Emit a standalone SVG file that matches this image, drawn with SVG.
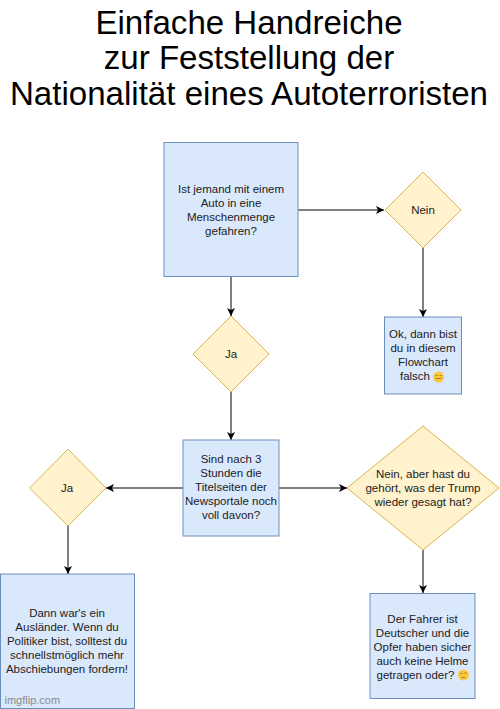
<svg xmlns="http://www.w3.org/2000/svg" width="500" height="709" viewBox="0 0 500 709">
<style>
.box{fill:#dae8fc;stroke:#6c8ebf;stroke-width:1}
.dia{fill:#fff2cc;stroke:#d6b656;stroke-width:1}
.t{font-family:"Liberation Sans",Arial,sans-serif;font-size:11.5px;fill:#222;text-anchor:middle}
.title{font-family:"Liberation Sans",Arial,sans-serif;font-size:33.1px;fill:#000;text-anchor:middle}
.c{stroke:#000;stroke-width:1;fill:none;marker-end:url(#a)}
.em{fill:#fcc63f}
.f{stroke:#8a6a20;stroke-width:.8;fill:none}
</style>
<defs><marker id="a" markerUnits="userSpaceOnUse" markerWidth="9" markerHeight="9" refX="8" refY="4.5" orient="auto"><path d="M0 0.5L8 4.5L0 8.5L2 4.5Z" fill="#000"/></marker></defs>
<rect width="500" height="709" fill="#fff"/>
<g id="title">
<text class="title" x="249" y="34">Einfache Handreiche</text>
<text class="title" x="249" y="69">zur Feststellung der</text>
<text class="title" x="249" y="105">Nationalität eines Autoterroristen</text>
</g>
<g id="connectors">
<path class="c" d="M298 210H384"/>
<path class="c" d="M231 277V316"/>
<path class="c" d="M423 248V317"/>
<path class="c" d="M231 392V440"/>
<path class="c" d="M183 488H106"/>
<path class="c" d="M279 488H347"/>
<path class="c" d="M68 526V574"/>
<path class="c" d="M423 550V593"/>
</g>
<g id="n1"><rect class="box" x="164" y="142.500" width="134" height="134"/>
<text class="t" x="231" y="193">Ist jemand mit einem</text><text class="t" x="231" y="207">Auto in eine</text><text class="t" x="231" y="221">Menschenmenge</text><text class="t" x="231" y="235">gefahren?</text></g>
<g id="n2"><path class="dia" d="M423 172L461 210L423 248L385 210Z"/><text class="t" x="423" y="214">Nein</text></g>
<g id="n3"><path class="dia" d="M231 316L269 354L231 392L193 354Z"/><text class="t" x="231" y="358">Ja</text></g>
<g id="n4"><rect class="box" x="384.500" y="317" width="77" height="77"/>
<text class="t" x="423" y="338">Ok, dann bist</text><text class="t" x="423" y="352">du in diesem</text><text class="t" x="423" y="366">Flowchart</text><text class="t" x="415" y="380">falsch</text>
<circle class="em" cx="438.500" cy="377" r="5.500"/><path class="f" d="M435.500 378.500H441.500M435.500 375.500h2M439.500 375.500h2"/></g>
<g id="n5"><rect class="box" x="183" y="440" width="96" height="96"/>
<text class="t" x="231" y="463">Sind nach 3</text><text class="t" x="231" y="477">Stunden die</text><text class="t" x="231" y="491">Titelseiten der</text><text class="t" x="231" y="505">Newsportale noch</text><text class="t" x="231" y="519">voll davon?</text></g>
<g id="n6"><path class="dia" d="M68 449L106 488L68 526L29.500 488Z"/><text class="t" x="67" y="492">Ja</text></g>
<g id="n7"><path class="dia" d="M423 426L499 488L423 550L347 488Z"/>
<text class="t" x="423" y="478">Nein, aber hast du</text><text class="t" x="423" y="492">gehört, was der Trump</text><text class="t" x="423" y="506">wieder gesagt hat?</text></g>
<g id="n8"><rect class="box" x="0.500" y="574" width="134" height="134.500"/>
<text class="t" x="67" y="617">Dann war's ein</text><text class="t" x="67" y="631">Ausländer. Wenn du</text><text class="t" x="67" y="645">Politiker bist, solltest du</text><text class="t" x="67" y="659">schnellstmöglich mehr</text><text class="t" x="67" y="673">Abschiebungen fordern!</text></g>
<g id="n9"><rect class="box" x="370" y="593.500" width="105" height="105"/>
<text class="t" x="422.500" y="623">Der Fahrer ist</text><text class="t" x="422.500" y="637">Deutscher und die</text><text class="t" x="422.500" y="651">Opfer haben sicher</text><text class="t" x="422.500" y="665">auch keine Helme</text><text class="t" x="415.500" y="679">getragen oder?</text>
<circle class="em" cx="463.500" cy="675" r="5.500"/><path class="f" d="M460.500 673.500h2M464.500 673h2M461.500 677.500h3.500"/></g>
<text id="wm" x="4.500" y="704" font-family="'Liberation Sans',Arial,sans-serif" font-size="11px" fill="#8a8a8a">imgflip.com</text>
</svg>
